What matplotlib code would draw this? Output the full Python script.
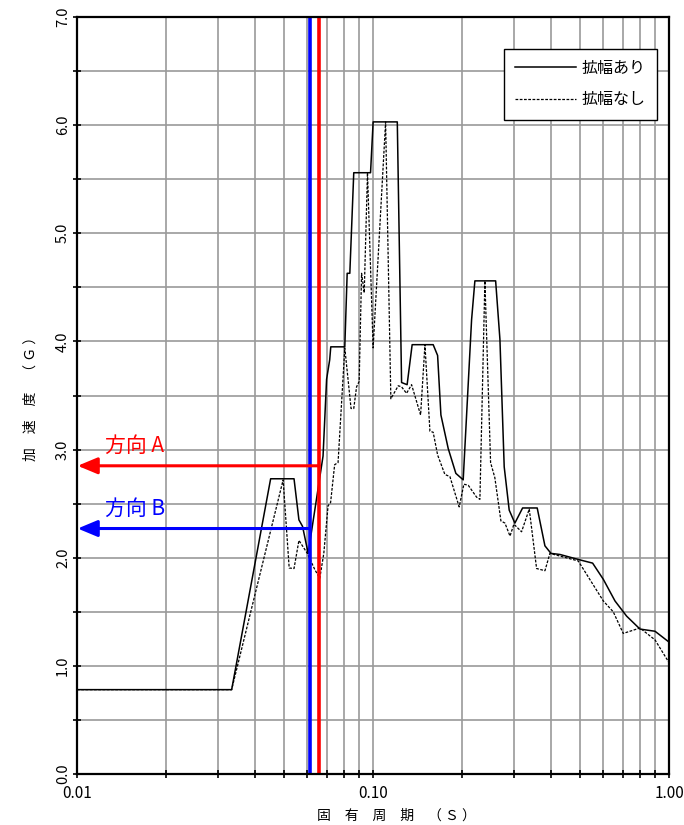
import matplotlib
matplotlib.use("Agg")
import matplotlib.pyplot as plt
from matplotlib.ticker import FixedLocator, NullFormatter

plt.rcParams['font.family'] = ['Noto Sans CJK JP', 'DejaVu Sans']

# 拡幅あり (solid)
period_a = [0.01, 0.0333, 0.0451, 0.0541, 0.0562, 0.0578, 0.0604, 0.0678, 0.0697,
            0.0714, 0.0720, 0.0803, 0.0818, 0.0835, 0.0861, 0.0981, 0.1001, 0.1208,
            0.1249, 0.1304, 0.1356, 0.1597, 0.1653, 0.1696, 0.1795, 0.1905, 0.2017,
            0.2153, 0.2209, 0.2596, 0.2684, 0.2775, 0.2885, 0.3015, 0.3202, 0.3587,
            0.3809, 0.3993, 0.428, 0.500, 0.552, 0.600, 0.657, 0.719, 0.798, 0.897, 1.0]
accel_a = [0.78, 0.78, 2.73, 2.73, 2.35, 2.29, 2.04, 2.94, 3.65,
           3.83, 3.95, 3.95, 4.63, 4.63, 5.56, 5.56, 6.03, 6.03,
           3.62, 3.60, 3.97, 3.97, 3.87, 3.32, 3.01, 2.78, 2.72,
           4.20, 4.56, 4.56, 4.02, 2.84, 2.44, 2.32, 2.46, 2.46,
           2.11, 2.04, 2.03, 1.98, 1.95, 1.80, 1.60, 1.46, 1.34, 1.32, 1.22]

# 拡幅なし (dashed)
period_b = [0.01, 0.0333, 0.0497, 0.0521, 0.0541, 0.0562, 0.0600, 0.0636, 0.0661,
            0.0682, 0.0705, 0.0719, 0.0742, 0.0762, 0.0803, 0.0843, 0.0861, 0.0880,
            0.0898, 0.0915, 0.0934, 0.0958, 0.1001, 0.1103, 0.1149, 0.1217, 0.1249,
            0.1298, 0.1350, 0.1448, 0.1498, 0.1557, 0.1597, 0.1653, 0.1749, 0.1819,
            0.1955, 0.2028, 0.2098, 0.2239, 0.2297, 0.2388, 0.2496, 0.258, 0.2705,
            0.2791, 0.2903, 0.2992, 0.3176, 0.3372, 0.357, 0.381, 0.396, 0.4936,
            0.600, 0.648, 0.7006, 0.798, 0.897, 1.0]
accel_b = [0.78, 0.78, 2.72, 1.905, 1.90, 2.16, 2.04, 1.89, 1.81,
           2.04, 2.48, 2.51, 2.86, 2.88, 3.94, 3.38, 3.38, 3.58,
           3.63, 4.63, 4.45, 5.56, 3.94, 6.03, 3.47, 3.59, 3.58,
           3.52, 3.60, 3.32, 3.97, 3.17, 3.16, 2.95, 2.77, 2.75,
           2.47, 2.68, 2.67, 2.56, 2.54, 4.56, 2.88, 2.74, 2.34,
           2.32, 2.20, 2.31, 2.24, 2.45, 1.90, 1.88, 2.04, 1.97,
           1.60, 1.50, 1.30, 1.35, 1.24, 1.03]

series_labels = ['拡幅あり', '拡幅なし']

dir_a_period = 0.0658
dir_a_accel = 2.85
dir_b_period = 0.0612
dir_b_accel = 2.27
dir_labels = ['方向 A', '方向 B']

x_tick_vals = [0.01, 0.1, 1.0]
x_tick_labels = ['0.01', '0.10', '1.00']
y_tick_vals = [0, 1, 2, 3, 4, 5, 6, 7]
y_tick_labels = ['0.0', '1.0', '2.0', '3.0', '4.0', '5.0', '6.0', '7.0']

fig = plt.figure(figsize=(6.84, 8.25), dpi=100)
ax = fig.add_axes([77/684, 51/825, 592/684, 757/825])

ax.set_xscale('log')
ax.set_xlim(0.01, 1.0)
ax.set_ylim(0, 7)

minor_x = [m * 10.0**e for e in (-2, -1) for m in range(2, 10)]
ax.xaxis.set_major_locator(FixedLocator(x_tick_vals))
ax.xaxis.set_minor_locator(FixedLocator(minor_x))
ax.xaxis.set_minor_formatter(NullFormatter())
ax.set_xticks(x_tick_vals)
ax.set_xticklabels(x_tick_labels, fontsize=11)
ax.set_yticks(y_tick_vals)
ax.set_yticklabels(y_tick_labels, fontsize=10.5, rotation=90, va='center', color='#333333')
ax.yaxis.set_minor_locator(FixedLocator([v + 0.5 for v in y_tick_vals[:-1]]))

ax.grid(True, which='both', color='#9a9a9a', linewidth=1.2)
ax.set_axisbelow(True)
ax.tick_params(axis='both', which='both', direction='inout', length=6, width=1.2, colors='black')
ax.tick_params(axis='x', which='major', pad=5)
ax.tick_params(axis='y', which='major', pad=2)
for s in ax.spines.values():
    s.set_linewidth(1.6)
    s.set_color('black')

ax.plot(period_a, accel_a, color='black', linewidth=1.1, label=series_labels[0])
ax.plot(period_b, accel_b, color='black', linewidth=0.9, linestyle=(0, (2.2, 1.2)),
        label=series_labels[1])

ax.axvline(dir_b_period, color='#0000ff', linewidth=2.6)
ax.axvline(dir_a_period, color='#ff0000', linewidth=2.6)

ax.annotate('', xy=(0.01005, dir_a_accel), xytext=(dir_a_period, dir_a_accel),
            arrowprops=dict(arrowstyle='-|>,head_length=1.2,head_width=0.5',
                            color='#ff0000', lw=2.2, shrinkA=0, shrinkB=0))
ax.annotate('', xy=(0.01005, dir_b_accel), xytext=(dir_b_period, dir_b_accel),
            arrowprops=dict(arrowstyle='-|>,head_length=1.2,head_width=0.5',
                            color='#0000ff', lw=2.2, shrinkA=0, shrinkB=0))
ax.text(0.0124, dir_a_accel + 0.08, dir_labels[0], color='#ff0000', fontsize=15,
        ha='left', va='bottom')
ax.text(0.0124, dir_b_accel + 0.08, dir_labels[1], color='#0000ff', fontsize=15,
        ha='left', va='bottom')

leg = ax.legend(loc='upper right', bbox_to_anchor=(0.98, 0.958), borderaxespad=0,
                fancybox=False, edgecolor='black', framealpha=1, fontsize=11.5,
                handlelength=3.8, labelspacing=0.9, borderpad=0.7, handletextpad=0.4)
leg.get_frame().set_linewidth(1.0)

ax.set_xlabel('固　有　周　期　（ Ｓ ）', fontsize=10)
ax.xaxis.set_label_coords(0.54, -0.046)
ax.set_ylabel('加　速　度　（ Ｇ ）', fontsize=10)
ax.yaxis.set_label_coords(-0.066, 0.5)

fig.savefig('out.png', dpi=100)
